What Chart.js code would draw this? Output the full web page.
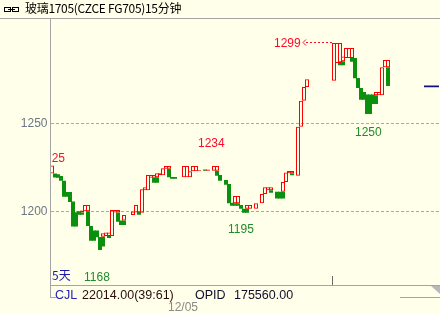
<!DOCTYPE html>
<html>
<head>
<meta charset="utf-8">
<title>玻璃1705 15分钟</title>
<script src="https://cdn.jsdelivr.net/npm/chart.js@4.4.1/dist/chart.umd.min.js"></script>
<style>
  html, body { margin: 0; padding: 0; background: #ffffea; }
  #wrap { position: relative; width: 440px; height: 314px; overflow: hidden; background: #ffffea;
          font-family: "Liberation Sans", Arial, sans-serif; }
  #c { position: absolute; left: 0; top: 0; }
  .t { position: absolute; white-space: nowrap; font-size: 12px; line-height: 12px; }
  .cjk { font-family: "Noto Sans CJK SC", sans-serif; }
  .red { color: #ff0a2a; }
  .grn { color: #1f8c2a; }
  .bot { font-size: 12.5px; line-height: 13px; top: 289px; }
</style>
</head>
<body>
<div id="wrap">
  <canvas id="c" width="441" height="314"></canvas>
  <div class="t cjk" style="left:25px;top:2px;color:#000;letter-spacing:-0.3px;">玻璃1705(CZCE FG705)15分钟</div>

  <div class="t red" style="left:274px;top:37px;">1299</div>
  <div class="t red" style="left:198px;top:137px;">1234</div>
  <div class="t grn" style="left:228px;top:223px;">1195</div>
  <div class="t grn" style="left:355px;top:126px;">1250</div>
  <div class="t grn" style="left:84px;top:271px;">1168</div>
  <div class="t red" style="left:51px;top:152px;width:14px;overflow:hidden;text-align:right;direction:rtl;">1225</div>
  <div class="t cjk" style="left:52px;top:269px;color:#1c1ca8;">5天</div>

  <div class="t bot" style="left:55px;color:#2323b4;">CJL</div>
  <div class="t bot" style="left:82px;color:#2a0c0c;">22014.00(39:61)</div>
  <div class="t bot" style="left:195px;color:#10102a;">OPID</div>
  <div class="t bot" style="left:234px;color:#10102a;">175560.00</div>
  <div class="t" style="left:168px;top:301px;color:#8a8a8a;">12/05</div>
</div>
<script>
// 15分钟宝塔线, 每根占一个时间格
const slots = [];
for (let i = 0; i < 130; i++) slots.push(String(i));

const yTicks = [1200, 1250];

// 阳线段 [格, 低, 高]
const upBars = [
  [0, 1221.5, 1226], [10, 1199.3, 1200.5], [11, 1200, 1203.6], [12, 1200, 1203.6],
  [17, 1185.5, 1187.5], [18, 1186, 1188], [19, 1186, 1188], [20, 1186, 1200.7],
  [21, 1199.3, 1200.7], [22, 1199.3, 1200.7], [24, 1194.7, 1197.9], [27, 1197.9, 1199.8],
  [28, 1199.3, 1203.6], [30, 1199.2, 1212.5], [31, 1212, 1213.6], [32, 1212, 1220.6],
  [33, 1219, 1220.6], [34, 1219, 1220.6], [35, 1219.3, 1221.6], [36, 1220.5, 1221.6],
  [37, 1220.5, 1224.4], [38, 1224.2, 1225.7], [39, 1224.2, 1225.7], [44, 1219.3, 1225.7],
  [45, 1219.3, 1225.7], [46, 1219.3, 1222.7], [47, 1222.7, 1225.7], [48, 1222.7, 1225.7],
  [49, 1222.7, 1223.3], [52, 1223, 1223.8], [54, 1223, 1225.7], [55, 1223, 1225.7],
  [61, 1204.5, 1208.7], [62, 1204.5, 1208.7], [65, 1201.5, 1203.6], [66, 1201.5, 1203.6],
  [68, 1201.5, 1204.5], [70, 1204.5, 1209.8], [71, 1209.8, 1213.6], [72, 1212, 1213.6],
  [73, 1212, 1213.6], [77, 1211.1, 1216.6], [78, 1216.6, 1222], [79, 1221.6, 1222.9],
  [80, 1221.6, 1222.9], [82, 1220.2, 1248], [83, 1248, 1262.8], [84, 1262.8, 1270.6],
  [85, 1270.6, 1275], [94, 1274.2, 1295.6], [95, 1284.3, 1295.6], [96, 1284.3, 1295.6],
  [97, 1285.2, 1288], [98, 1287.1, 1292.8], [99, 1287.1, 1292.8], [100, 1287.1, 1292.8],
  [108, 1265.9, 1267.8], [109, 1265.9, 1267.8], [110, 1265.9, 1281.8], [111, 1281.8, 1286],
  [112, 1281.8, 1286]
];

// 阴线段 [格, 低, 高]
const downBars = [
  [1, 1219.2, 1221.5], [2, 1219, 1221], [3, 1217.4, 1220], [4, 1208.3, 1217.4],
  [5, 1208.3, 1211], [6, 1205.3, 1211], [7, 1191.3, 1205.5], [8, 1191.3, 1199.5],
  [9, 1198, 1200], [10, 1198, 1199.3], [12, 1191.6, 1200], [13, 1183.3, 1191.6],
  [14, 1183.3, 1189], [15, 1185.2, 1189], [16, 1178, 1185.4], [17, 1180, 1185.5],
  [19, 1184.8, 1186], [22, 1194, 1199.3], [23, 1192.2, 1194.7], [24, 1192.2, 1194.7],
  [29, 1198, 1200], [34, 1216.2, 1219], [35, 1216.2, 1219.3], [39, 1219.3, 1224.2],
  [40, 1218.5, 1219.5], [41, 1218.5, 1219.5], [51, 1223, 1223.8], [55, 1220.2, 1223],
  [56, 1217.4, 1220.6], [58, 1215, 1217.8], [59, 1204.5, 1215.5], [60, 1203.2, 1204.9],
  [61, 1203.2, 1204.5], [62, 1203.2, 1204.5], [63, 1201.5, 1203.6], [64, 1199.2, 1201.5],
  [65, 1199.2, 1201.5], [73, 1210.5, 1212], [75, 1207.2, 1211.1], [76, 1207.2, 1211.1],
  [77, 1207.2, 1211.1], [80, 1220.5, 1221.6], [96, 1283, 1285.2], [97, 1283, 1285.2],
  [100, 1285, 1287.1], [101, 1275.6, 1287.1], [102, 1270, 1275.7], [103, 1263.4, 1270],
  [104, 1263.4, 1267.8], [105, 1255.3, 1266.3], [106, 1255.3, 1266.3], [107, 1261, 1266.3],
  [108, 1261, 1265.9], [112, 1271.2, 1281.8]
];

// 右侧蓝色价位线
const lastPrice = 1271;
const lastPriceSlots = [124, 125, 126, 127, 128, 129];

const highSlot = 94;     // 1299 箭头指向的那根
const highTop = 1295.6;

function toSeries(bars) {
    const arr = slots.map(() => null);
    bars.forEach(([i, lo, hi]) => { arr[i] = [lo, hi]; });
    return arr;
}
const priceLine = slots.map((s, i) => lastPriceSlots.includes(i) ? lastPrice : null);

const framePlugin = {
    id: 'frame',
    afterDraw(chart) {
        const ctx = chart.ctx;
        const xs = chart.scales.x, ys = chart.scales.y;
        ctx.save();
        ctx.strokeStyle = '#a4a4a4';
        ctx.lineWidth = 1;
        ctx.beginPath();
        ctx.moveTo(0, 18.5); ctx.lineTo(441, 18.5);
        ctx.moveTo(50.5, 18); ctx.lineTo(50.5, 298);
        ctx.moveTo(50, 285.5); ctx.lineTo(441, 285.5);
        ctx.moveTo(50, 297.5); ctx.lineTo(56, 297.5);
        ctx.moveTo(400, 297.5); ctx.lineTo(441, 297.5);
        ctx.stroke();
        // 日分隔刻度
        ctx.strokeStyle = '#6a6a6a';
        ctx.beginPath(); ctx.moveTo(332.5, 276); ctx.lineTo(332.5, 285); ctx.stroke();
        // 右下角三角
        ctx.fillStyle = '#b8b8b8';
        ctx.beginPath(); ctx.moveTo(431, 286); ctx.lineTo(440, 286); ctx.lineTo(440, 294); ctx.closePath(); ctx.fill();
        // 标题前的链接图标
        ctx.strokeStyle = '#000';
        ctx.strokeRect(4.5, 7.5, 6, 4);
        ctx.strokeRect(12.5, 7.5, 6, 4);
        ctx.beginPath(); ctx.moveTo(8, 9.5); ctx.lineTo(15, 9.5); ctx.stroke();
        // 最高价虚线箭头
        const hx = xs.getPixelForValue(highSlot) - 2;
        const hy = Math.round(ys.getPixelForValue(highTop)) - 0.5;
        ctx.strokeStyle = '#ff0a2a';
        ctx.setLineDash([2, 2]);
        ctx.beginPath(); ctx.moveTo(hx, hy); ctx.lineTo(304, hy); ctx.stroke();
        ctx.setLineDash([]);
        ctx.beginPath();
        ctx.moveTo(306, hy - 3); ctx.lineTo(303, hy); ctx.lineTo(306, hy + 3);
        ctx.stroke();
        ctx.restore();
    }
};

new Chart(document.getElementById('c'), {
    data: {
        labels: slots,
        datasets: [
            {
                type: 'bar',
                data: toSeries(downBars),
                backgroundColor: '#0a900c',
                borderWidth: 0,
                inflateAmount: 0,
                grouped: false,
                barPercentage: 4 / 3,
                categoryPercentage: 1,
                order: 2
            },
            {
                type: 'bar',
                data: toSeries(upBars),
                backgroundColor: 'rgba(0,0,0,0)',
                borderColor: '#ff0000',
                borderWidth: 1,
                borderSkipped: false,
                inflateAmount: 0,
                grouped: false,
                barPercentage: 4 / 3,
                categoryPercentage: 1,
                order: 1
            },
            {
                type: 'line',
                data: priceLine,
                borderColor: '#10108a',
                borderWidth: 1.6,
                pointRadius: 0,
                spanGaps: false,
                order: 0
            }
        ]
    },
    options: {
        responsive: false,
        animation: false,
        events: [],
        layout: { padding: { top: 19, bottom: 29, left: 0, right: 0.5 } },
        plugins: { legend: { display: false }, tooltip: { enabled: false } },
        scales: {
            x: {
                type: 'category',
                display: false,
                offset: true,
                grid: { display: false }
            },
            y: {
                min: 1158.1,
                max: 1309.26,
                afterFit(scale) { scale.width = 50.5; },
                afterBuildTicks(scale) { scale.ticks = yTicks.map(v => ({ value: v })); },
                grid: { color: '#a8a8a8', lineWidth: 1, drawTicks: false },
                border: { display: false, dash: [3, 2] },
                ticks: {
                    color: '#6d7786',
                    padding: 3,
                    font: { family: 'Liberation Sans', size: 12 },
                    callback: v => String(v)
                }
            }
        }
    },
    plugins: [framePlugin]
});
</script>
</body>
</html>
